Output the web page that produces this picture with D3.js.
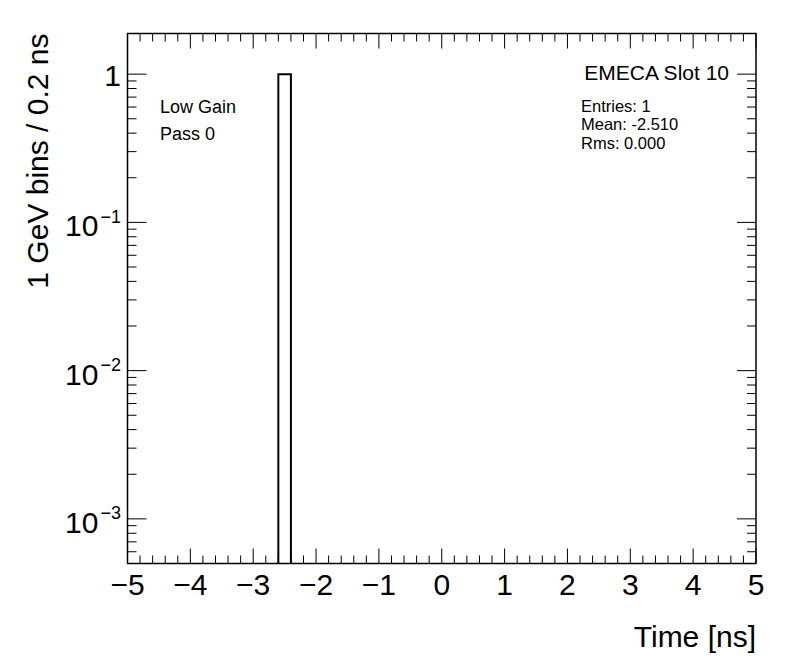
<!DOCTYPE html>
<html>
<head>
<meta charset="utf-8">
<script src="https://cdn.jsdelivr.net/npm/d3@7"></script>
<style>
  body { margin: 0; background: #fff; }
  text { font-family: "Liberation Sans", Arial, sans-serif; fill: #000; }
</style>
</head>
<body>
<div id="chart"></div>
<script>
// histogram bins (ns) and contents
const binLow = [-2.6];
const binHigh = [-2.4];
const binCounts = [1];

const xTicks = [-5, -4, -3, -2, -1, 0, 1, 2, 3, 4, 5];
const yDecades = [-3, -2, -1, 0];

const xDomain = [-5, 5];
const yDomain = [5e-4, 1.88];

const titleText = "EMECA Slot 10";
const statsLines = ["Entries: 1", "Mean: -2.510", "Rms: 0.000"];
const infoLines = ["Low Gain", "Pass 0"];

const W = 796, H = 672;
const frame = { left: 127.5, right: 756, top: 33.5, bottom: 563.5 };

const svg = d3.select("#chart").append("svg")
    .attr("width", W)
    .attr("height", H);

const x = d3.scaleLinear().domain(xDomain).range([frame.left, frame.right]);
const y = d3.scaleLog().domain(yDomain).range([frame.bottom, frame.top]);

// bars
svg.selectAll("path.bin")
    .data(binCounts)
    .join("path")
    .attr("class", "bin")
    .attr("fill", "none")
    .attr("stroke", "#000")
    .attr("stroke-width", 2)
    .attr("d", (d, i) => `M${x(binLow[i])},${frame.bottom}V${y(d)}H${x(binHigh[i])}V${frame.bottom}`);

// x ticks (major + minor), bottom and top
const xMinor = d3.range(-50, 51, 2).map(v => v / 10);
const tickG = svg.append("g").attr("stroke", "#000").attr("stroke-width", 1);
xMinor.forEach(v => {
    const major = Math.abs(v - Math.round(v)) < 1e-9;
    const len = major ? 15 : 8;
    tickG.append("line").attr("x1", x(v)).attr("x2", x(v))
        .attr("y1", frame.bottom).attr("y2", frame.bottom - len);
    tickG.append("line").attr("x1", x(v)).attr("x2", x(v))
        .attr("y1", frame.top).attr("y2", frame.top + len);
});

// y ticks (log), left and right
const yTickVals = [];
for (let e = -4; e <= 0; e++) {
    for (let m = 1; m <= 9; m++) {
        const v = m * Math.pow(10, e);
        if (v >= yDomain[0] && v <= yDomain[1]) yTickVals.push({ v, major: m === 1 });
    }
}
yTickVals.forEach(t => {
    const len = t.major ? 19 : 9;
    tickG.append("line").attr("x1", frame.left).attr("x2", frame.left + len)
        .attr("y1", y(t.v)).attr("y2", y(t.v));
    tickG.append("line").attr("x1", frame.right).attr("x2", frame.right - len)
        .attr("y1", y(t.v)).attr("y2", y(t.v));
});

// frame
svg.append("rect")
    .attr("x", frame.left).attr("y", frame.top)
    .attr("width", frame.right - frame.left)
    .attr("height", frame.bottom - frame.top)
    .attr("fill", "none").attr("stroke", "#000").attr("stroke-width", 1.5);

// x tick labels
const fmt = d3.format("d");
svg.selectAll("text.xlab")
    .data(xTicks)
    .join("text")
    .attr("class", "xlab")
    .attr("x", d => x(d))
    .attr("y", 595)
    .attr("text-anchor", "middle")
    .style("font-size", "30px")
    .text(d => fmt(d));

// y tick labels
yDecades.forEach(e => {
    const t = svg.append("text")
        .attr("text-anchor", "end")
        .attr("x", frame.left - 6.5)
        .style("font-size", "30px");
    if (e === 0) {
        t.attr("y", y(1) + 11.5).text("1");
    } else {
        t.attr("y", y(Math.pow(10, e)) + 14);
        t.append("tspan").text("10");
        t.append("tspan").attr("dx", 2).attr("dy", -13.5).style("font-size", "18px").text(fmt(e));
    }
});

// axis titles
svg.append("text")
    .attr("x", frame.right)
    .attr("y", 647)
    .attr("text-anchor", "end")
    .style("font-size", "30px")
    .text("Time [ns]");

svg.append("text")
    .attr("transform", `translate(48, ${frame.top}) rotate(-90)`)
    .attr("text-anchor", "end")
    .style("font-size", "30px")
    .text("1 GeV bins / 0.2 ns");

// labels inside the frame
svg.append("text")
    .attr("x", 729).attr("y", 80)
    .attr("text-anchor", "end")
    .style("font-size", "21px")
    .text(titleText);

svg.selectAll("text.stat")
    .data(statsLines)
    .join("text")
    .attr("class", "stat")
    .attr("x", 581).attr("y", (d, i) => 111.5 + i * 18.5)
    .style("font-size", "16.5px")
    .text(d => d);

svg.selectAll("text.info")
    .data(infoLines)
    .join("text")
    .attr("class", "info")
    .attr("x", 160).attr("y", (d, i) => 113 + i * 27)
    .style("font-size", "18px")
    .text(d => d);
</script>
</body>
</html>
